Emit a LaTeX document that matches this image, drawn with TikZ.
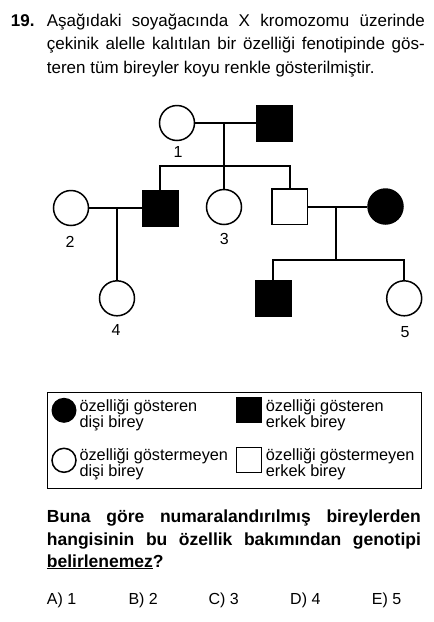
\documentclass[tikz,border=0pt]{standalone}
\usepackage{fontspec}
\setmainfont{Liberation Sans}
\begin{document}
\begin{tikzpicture}[x=1pt,y=-1pt,
  fem/.style={circle,draw,line width=1.5pt,minimum size=35pt,inner sep=0pt},
  mal/.style={rectangle,draw,line width=1.5pt,minimum size=35.5pt,inner sep=0pt},
  aff/.style={fill=black},
  link/.style={line width=2pt},
  lbl/.style={font=\fontsize{16}{18}\selectfont,inner sep=0pt},
  txt/.style={font=\fontsize{17}{20}\selectfont,inner sep=0pt,anchor=base west},
  atxt/.style={font=\fontsize{16}{19}\selectfont,inner sep=0pt,anchor=base west},
  btxt/.style={font=\bfseries\fontsize{17.5}{20}\selectfont,inner sep=0pt,anchor=base west},
  legtxt/.style={font=\fontsize{16.3}{18}\selectfont,inner sep=0pt,anchor=base west}]
\useasboundingbox[fill=white] (0,0) rectangle (434,622);

% title
\node[txt,font=\bfseries\fontsize{17}{20}\selectfont] (num) at (10.7,26) {19.};
\node[txt] (q1) at (46.7,26) {\makebox[378pt][s]{Aşağıdaki soyağacında X kromozomu üzerinde}};
\node[txt] (q2) at (46.7,49.7) {\makebox[378pt][s]{çekinik alelle kalıtılan bir özelliği fenotipinde gös-}};
\node[txt] (q3) at (46.7,73.3) {teren tüm bireyler koyu renkle gösterilmiştir.};

% pedigree
\node[fem] (c1) at (177,123) {};
\node[mal,aff] (s1) at (274.5,123) {};
\coordinate (m1) at (224,123);
\coordinate (b1) at (224,166);
\node[fem] (c2) at (71,208) {};
\node[mal,aff] (a) at (160,208) {};
\node[fem] (c3) at (224,207) {};
\node[mal] (b) at (289.5,206.5) {};
\node[fem,aff] (w) at (385.5,206.5) {};
\coordinate (m2) at (117,208);
\coordinate (m3) at (335.7,206.5);
\coordinate (b3) at (335.7,260);
\node[fem] (c4) at (117,298.3) {};
\node[mal,aff] (s5) at (273.3,298.3) {};
\node[fem] (c5) at (404.2,298.3) {};

\draw[link] (c1) -- (s1);
\draw[link] (m1) -- (b1);
\draw[link] (a.north) |- (b1) -| (b.north);
\draw[link] (b1) -- (c3.north);
\draw[link] (c2) -- (a);
\draw[link] (m2) -- (c4.north);
\draw[link] (b) -- (w);
\draw[link] (m3) -- (b3);
\draw[link] (s5.north) |- (b3) -| (c5.north);

\node[lbl] (l1) at (178,152) {1};
\node[lbl] (l2) at (70,241.7) {2};
\node[lbl] (l3) at (224.3,239) {3};
\node[lbl] (l4) at (116,330) {4};
\node[lbl] (l5) at (405,331.7) {5};

% legend
\node[draw,line width=1.2pt,minimum width=374pt,minimum height=96.3pt,inner sep=0pt,anchor=north west] (leg) at (46.7,391.7) {};
\node[circle,fill=black,minimum size=25pt,inner sep=0pt] (lf) at (64,410.3) {};
\node[circle,draw,line width=1.5pt,minimum size=24pt,inner sep=0pt] (lo) at (64,460.3) {};
\node[rectangle,fill=black,minimum size=26pt,inner sep=0pt] (lsf) at (248.7,410.3) {};
\node[rectangle,draw,line width=1.5pt,minimum size=25pt,inner sep=0pt] (lso) at (249,460) {};
\node[legtxt] (t1a) at (79.3,411.7) {özelliği gösteren};
\node[legtxt] (t1b) at (79.3,427.5) {dişi birey};
\node[legtxt] (t2a) at (79.3,460.5) {özelliği göstermeyen};
\node[legtxt] (t2b) at (79.3,476.5) {dişi birey};
\node[legtxt] (t3a) at (265.7,411.7) {özelliği gösteren};
\node[legtxt] (t3b) at (265.7,427.5) {erkek birey};
\node[legtxt] (t4a) at (265.7,460.5) {özelliği göstermeyen};
\node[legtxt] (t4b) at (265.7,476.5) {erkek birey};

% question
\node[btxt] (p1) at (46.7,522) {\makebox[374pt][s]{Buna göre numaralandırılmış bireylerden}};
\node[btxt] (p2) at (46.7,545.5) {\makebox[374pt][s]{hangisinin bu özellik bakımından genotipi}};
\node[btxt] (p3) at (46.7,567) {\underline{belirlenemez}?};

\node[atxt] (oa) at (46.7,604) {A) 1};
\node[atxt] (ob) at (128.3,604) {B) 2};
\node[atxt] (oc) at (208.3,604) {C) 3};
\node[atxt] (od) at (290,604) {D) 4};
\node[atxt] (oe) at (371.7,604) {E) 5};
\end{tikzpicture}
\end{document}
